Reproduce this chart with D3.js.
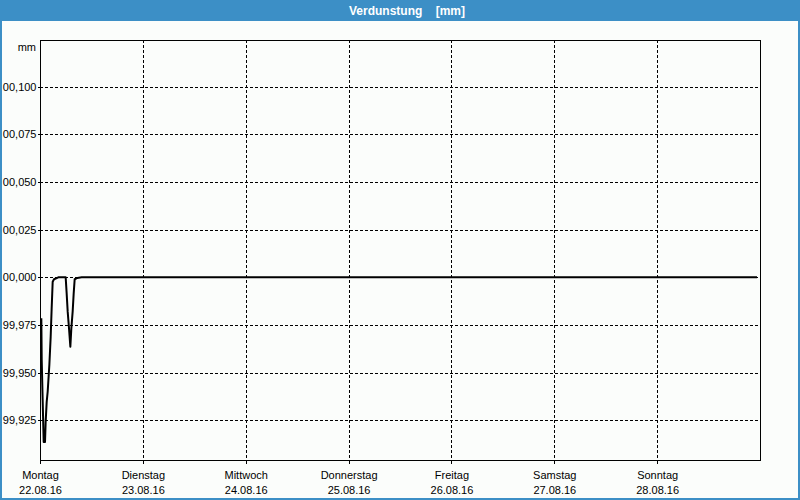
<!DOCTYPE html>
<html><head><meta charset="utf-8">
<script src="https://cdn.jsdelivr.net/npm/d3@7"></script>
<style>
html,body{margin:0;padding:0;background:#fbfdfb;}
svg{display:block;}
text{font-family:"Liberation Sans",Arial,sans-serif;}
</style></head>
<body>
<svg id="c" width="800" height="500"></svg>
<script>
// hours after 22.08.16 00:00
const hours = [0.31,0.40,0.62,0.86,1.17,1.32,1.56,1.79,2.18,2.49,2.72,2.96,3.27,4.28,5.99,6.22,6.46,6.77,7.08,7.31,7.62,7.86,8.09,8.71,9.72,167.3];
const values = [99.9785,99.9566,99.9356,99.9137,99.9137,99.9242,99.9347,99.940,99.954,99.9688,99.9837,99.9977,99.999,100.000,100.000,99.9916,99.982,99.9732,99.9636,99.9732,99.982,99.9916,99.999,99.9997,100.000,100.000];
const yTicks = [99.925,99.950,99.975,100.000,100.025,100.050,100.075,100.100];
const yTickLabels = ["99,925","99,950","99,975","00,000","00,025","00,050","00,075","00,100"];
const dayNames = ["Montag","Dienstag","Mittwoch","Donnerstag","Freitag","Samstag","Sonntag"];
const dayDates = ["22.08.16","23.08.16","24.08.16","25.08.16","26.08.16","27.08.16","28.08.16"];
const title = "Verdunstung    [mm]";
const unit = "mm";

const svg = d3.select("#c");
const W=800,H=500, L=40,R=760,T=40,B=460;
const blue="#3c8fc6";
const FONT = "'Liberation Sans', Arial, sans-serif";

svg.append("rect").attr("x",0).attr("y",0).attr("width",W).attr("height",H).attr("fill","#fbfdfb");
svg.append("rect").attr("x",0).attr("y",0).attr("width",W).attr("height",21).attr("fill",blue);
svg.append("rect").attr("x",1).attr("y",1).attr("width",W-2).attr("height",H-2).attr("fill","none").attr("stroke",blue).attr("stroke-width",2);
svg.append("text").attr("x",407).attr("y",15).attr("text-anchor","middle").attr("fill","#fff")
  .attr("font-size","12px").attr("font-weight","bold").attr("font-family",FONT).style("white-space","pre").attr("xml:space","preserve").text(title);

const x = d3.scaleLinear().domain([0,168]).range([L,R]);
const y = d3.scaleLinear().domain([99.9042,100.1245]).range([B,T]);
const dayTicks = d3.range(7).map(i=>i*24);

// grid
const g = svg.append("g");
g.selectAll(".hg").data(yTicks).join("line")
  .attr("x1",L).attr("x2",R).attr("y1",d=>Math.round(y(d))+0.5).attr("y2",d=>Math.round(y(d))+0.5)
  .attr("stroke","#000").attr("stroke-dasharray","3,2").attr("shape-rendering","crispEdges");
g.selectAll(".vg").data(dayTicks.slice(1)).join("line")
  .attr("y1",T).attr("y2",B).attr("x1",d=>Math.round(x(d))+0.5).attr("x2",d=>Math.round(x(d))+0.5)
  .attr("stroke","#000").attr("stroke-dasharray","3,2").attr("shape-rendering","crispEdges");

// axes
const yAxis = d3.axisLeft(y).tickValues(yTicks).tickSize(3).tickFormat((d,i)=>yTickLabels[i]);
const ya = svg.append("g").attr("transform",`translate(${L+0.5},0)`).call(yAxis);
ya.select(".domain").remove();
ya.selectAll("text").attr("font-size","11px").attr("fill","#000").attr("x",-4).attr("font-family",FONT);
ya.selectAll("line").attr("shape-rendering","crispEdges");

const xAxis = d3.axisBottom(x).tickValues(dayTicks).tickSize(3).tickFormat("");
const xa = svg.append("g").attr("transform",`translate(0,${B+0.5})`).call(xAxis);
xa.select(".domain").remove();
xa.selectAll("line").attr("shape-rendering","crispEdges");
xa.selectAll(".tick").each(function(d,i){
  const t=d3.select(this);
  t.append("text").attr("y",18).attr("fill","#000").attr("font-size","11px").attr("font-family",FONT).attr("text-anchor","middle").text(dayNames[i]);
  t.append("text").attr("y",33).attr("fill","#000").attr("font-size","11px").attr("font-family",FONT).attr("text-anchor","middle").text(dayDates[i]);
});

// frame
svg.append("rect").attr("x",L+0.5).attr("y",T+0.5).attr("width",R-L).attr("height",B-T)
  .attr("fill","none").attr("stroke","#000").attr("shape-rendering","crispEdges");

svg.append("text").attr("x",36).attr("y",51).attr("text-anchor","end").attr("font-size","11px").attr("font-family",FONT).attr("fill","#000").text(unit);

// line
const line = d3.line().x((d,i)=>x(hours[i])).y(d=>y(d));
svg.append("path").attr("d",line(values)).attr("fill","none").attr("stroke","#000").attr("stroke-width",2).attr("stroke-linejoin","round");
</script>
</body></html>
